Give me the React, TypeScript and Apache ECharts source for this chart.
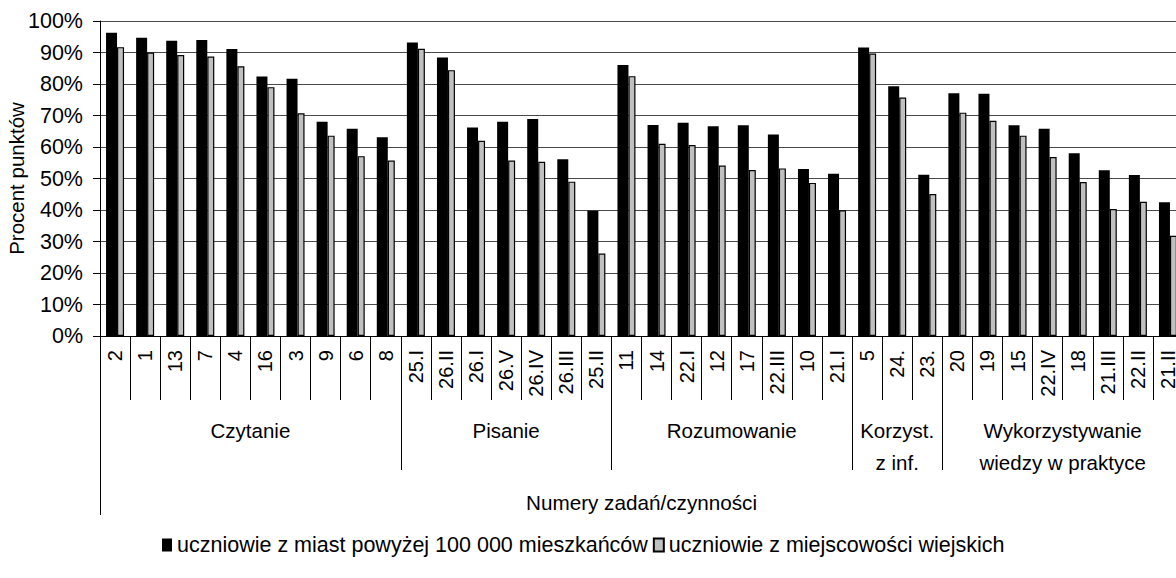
import React, { useEffect, useRef } from "react";
import * as echarts from "echarts";

const categories = ["2", "1", "13", "7", "4", "16", "3", "9", "6", "8", "25.I", "26.II", "26.I", "26.V", "26.IV", "26.III", "25.II", "11", "14", "22.I", "12", "17", "22.III", "10", "21.I", "5", "24.", "23.", "20", "19", "15", "22.IV", "18", "21.III", "22.II", "21.II"];
const cityValues = [96.3, 94.7, 93.7, 94.0, 91.1, 82.4, 81.7, 68.0, 65.8, 63.1, 93.2, 88.4, 66.2, 68.0, 68.9, 56.1, 39.8, 86.0, 67.0, 67.7, 66.6, 66.9, 64.0, 53.0, 51.5, 91.6, 79.3, 51.2, 77.1, 76.9, 66.9, 65.8, 58.0, 52.6, 51.1, 42.5];
const ruralValues = [91.7, 90.0, 89.2, 88.7, 85.6, 79.0, 70.7, 63.6, 57.1, 55.7, 91.2, 84.4, 62.0, 55.7, 55.3, 49.0, 26.2, 82.5, 61.0, 60.6, 54.1, 52.7, 53.2, 48.6, 39.9, 89.7, 75.7, 45.1, 70.9, 68.3, 63.6, 56.8, 48.9, 40.3, 42.6, 31.8];
const groupNames = ["Czytanie", "Pisanie", "Rozumowanie", "Korzyst.\nz inf.", "Wykorzystywanie\nwiedzy w praktyce"];
const groupSizes = [10, 7, 8, 3, 8];
const seriesNames = ["uczniowie z miast powyżej 100 000 mieszkańców", "uczniowie z miejscowości wiejskich"];

const FONT = "'Liberation Sans', Arial, sans-serif";

export default function App() {
  const ref = useRef<HTMLDivElement>(null);
  useEffect(() => {
    if (!ref.current) return;
    const chart = echarts.init(ref.current, undefined, { renderer: "svg" });
    const boundaries: number[] = [0];
    const centers: number[] = [];
    let acc = 0;
    groupSizes.forEach((s) => {
      centers.push(acc + s / 2);
      acc += s;
      boundaries.push(acc);
    });
    const n = categories.length;
    chart.setOption({
      animation: false,
      textStyle: { fontFamily: FONT, color: "#000" },
      grid: { left: 100, top: 21, width: 1083, height: 315, outerBoundsMode: "none", containLabel: false },
      legend: {
        left: 157,
        top: 529,
        itemWidth: 10,
        itemHeight: 13,
        itemGap: 5,
        icon: "rect",
        textStyle: { fontFamily: FONT, fontSize: 21.5, color: "#000" },
        data: seriesNames,
      },
      xAxis: [
        {
          type: "category",
          data: categories,
          position: "bottom",
          axisLine: { show: true, lineStyle: { color: "#000", width: 1 } },
          axisTick: { show: true, interval: 0, length: 64, lineStyle: { color: "#000", width: 1 } },
          axisLabel: { interval: 0, rotate: 90, margin: 14, fontSize: 20, color: "#000", fontFamily: FONT },
        },
        {
          type: "value",
          min: 0,
          max: n,
          position: "bottom",
          splitLine: { show: false },
          axisLine: { show: false },
          axisTick: { show: true, customValues: boundaries, length: 134, lineStyle: { color: "#000", width: 1 } },
          axisLabel: {
            show: true,
            customValues: centers,
            margin: 78,
            fontSize: 20.5,
            lineHeight: 32,
            color: "#000",
            fontFamily: FONT,
            formatter: (v: number) => {
              const i = centers.findIndex((c) => Math.abs(c - v) < 1e-6);
              return i >= 0 ? groupNames[i] : "";
            },
          },
        },
        {
          type: "value",
          min: 0,
          max: n,
          position: "bottom",
          splitLine: { show: false },
          axisLine: { show: false },
          axisTick: { show: true, customValues: [0], length: 179, lineStyle: { color: "#000", width: 1 } },
          axisLabel: { show: false },
          name: "Numery zadań/czynności",
          nameLocation: "middle",
          nameGap: 156,
          nameMoveOverlap: false,
          nameTextStyle: { fontSize: 20.7, color: "#000", fontFamily: FONT },
        },
      ],
      yAxis: {
        type: "value",
        min: 0,
        max: 100,
        interval: 10,
        name: "Procent punktów",
        nameLocation: "middle",
        nameGap: 73,
        nameMoveOverlap: false,
        nameTextStyle: { fontSize: 20.5, color: "#000", fontFamily: FONT },
        axisLine: { show: true, lineStyle: { color: "#000", width: 1 } },
        axisTick: { show: true, length: 7, lineStyle: { color: "#000" } },
        axisLabel: { formatter: "{value}%", margin: 17, fontSize: 21.5, color: "#000", fontFamily: FONT },
        splitLine: { show: true, lineStyle: { color: "#4a4a4a", width: 1 } },
      },
      series: [
        {
          name: seriesNames[0],
          type: "bar",
          xAxisIndex: 0,
          data: cityValues,
          barWidth: 11,
          barGap: "0%",
          z: 3,
          itemStyle: { color: "#000", borderColor: "#000", borderWidth: 0 },
        },
        {
          name: seriesNames[1],
          type: "bar",
          xAxisIndex: 0,
          data: ruralValues,
          barWidth: 7,
          barGap: "0%",
          z: 2,
          itemStyle: { color: "#c0c0c0", borderColor: "#000", borderWidth: 1.2 },
        },
      ],
    });
    return () => chart.dispose();
  }, []);
  return (
    <div style={{ position: "absolute", left: 0, top: 0, width: 1176, height: 578, overflow: "hidden", background: "#fff" }}>
      <div ref={ref} style={{ width: 1190, height: 578 }} />
    </div>
  );
}
